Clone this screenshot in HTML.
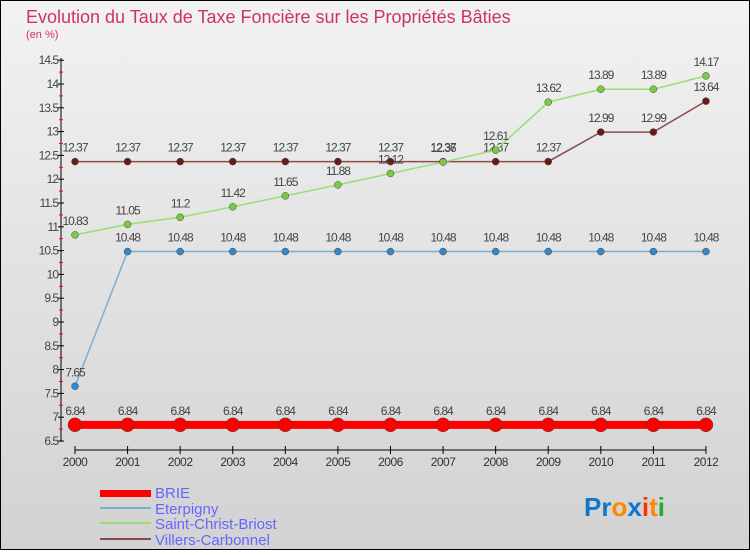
<!DOCTYPE html>
<html><head><meta charset="utf-8"><style>
body{margin:0;width:750px;height:550px;overflow:hidden;font-family:"Liberation Sans",sans-serif}
</style></head><body>
<svg width="750" height="550" xmlns="http://www.w3.org/2000/svg" font-family="Liberation Sans, sans-serif">
<defs><linearGradient id="bg" x1="0" y1="0" x2="0" y2="1"><stop offset="0" stop-color="#f2f2f2"/><stop offset="1" stop-color="#d2d2d2"/></linearGradient></defs>
<rect x="0.5" y="0.5" width="749" height="549" fill="url(#bg)" stroke="#000"/>
<text x="26" y="23" font-size="18" fill="#cc3366">Evolution du Taux de Taxe Foncière sur les Propriétés Bâties</text>
<text x="26" y="38" font-size="11" fill="#cc3366">(en %)</text>
<g id="axes"></g>
<g id="series"></g>
<g>
<rect x="100" y="490" width="51" height="7" fill="#f00"/><text x="155" y="498" font-size="15" fill="#6666ff">BRIE</text>
<rect x="100" y="507" width="51" height="2" fill="#7aaed0"/><text x="155" y="514" font-size="15" fill="#6666ff">Eterpigny</text>
<rect x="100" y="522" width="51" height="2" fill="#99dd77"/><text x="155" y="529" font-size="15" fill="#6666ff">Saint-Christ-Briost</text>
<rect x="100" y="538" width="51" height="2" fill="#8b4a4a"/><text x="155" y="545" font-size="15" fill="#6666ff">Villers-Carbonnel</text>
</g>
<g font-size="26" font-weight="bold">
<text x="584" y="516"><tspan fill="#1177cc">Pr</tspan><tspan fill="#ff8800">o</tspan><tspan fill="#1177cc">x</tspan><tspan fill="#ff3300">i</tspan><tspan fill="#ff8800">t</tspan><tspan fill="#22aa33">i</tspan></text>
</g>
</svg>
<script>
const years=[2000,2001,2002,2003,2004,2005,2006,2007,2008,2009,2010,2011,2012];
const brie=[6.84,6.84,6.84,6.84,6.84,6.84,6.84,6.84,6.84,6.84,6.84,6.84,6.84];
const eterpigny=[7.65,10.48,10.48,10.48,10.48,10.48,10.48,10.48,10.48,10.48,10.48,10.48,10.48];
const saintChrist=[10.83,11.05,11.2,11.42,11.65,11.88,12.12,12.36,12.61,13.62,13.89,13.89,14.17];
const villers=[12.37,12.37,12.37,12.37,12.37,12.37,12.37,12.37,12.37,12.37,12.99,12.99,13.64];
const yTicks=[6.5,7,7.5,8,8.5,9,9.5,10,10.5,11,11.5,12,12.5,13,13.5,14,14.5];
const NS="http://www.w3.org/2000/svg";
const X=i=>75+i*52.58;
const Y=v=>441-(v-6.5)*47.6;
function mk(p,t,a){const e=document.createElementNS(NS,t);for(const k in a)e.setAttribute(k,a[k]);p.appendChild(e);return e;}
const ax=document.getElementById('axes');
const yl=mk(ax,'line',{x1:61,y1:58,x2:61,y2:442,stroke:'#000'});


yTicks.forEach(v=>{
 mk(ax,'line',{x1:58,x2:64,y1:Y(v),y2:Y(v),stroke:'#000'});
 if(v<14.5) mk(ax,'line',{x1:59,x2:63,y1:Y(v+0.25),y2:Y(v+0.25),stroke:'#f00'});
 const t=mk(ax,'text',{x:58,y:Y(v)+4,'font-size':12,'text-anchor':'end',fill:'#444','letter-spacing':'-1'});
 t.textContent=v;
 
 
});
const xl=mk(ax,'line',{x1:X(0),x2:X(12),y1:450,y2:450,stroke:'#000'});


years.forEach((y,i)=>{
 mk(ax,'line',{x1:X(i),x2:X(i),y1:446,y2:454,stroke:'#000'});
 const t=mk(ax,'text',{x:X(i),y:466,'font-size':12,'text-anchor':'middle',fill:'#333','letter-spacing':'-0.5'});
 t.textContent=y;
 
 
});
const sg=document.getElementById('series');
function series(name,vals,color,dot,w,r){
 const g=mk(sg,'g',{});
 
 
 mk(g,'polyline',{points:vals.map((v,i)=>X(i)+','+Y(v)).join(' '),fill:'none',stroke:color,'stroke-width':w});
 vals.forEach((v,i)=>{
  const c=mk(g,'circle',{cx:X(i),cy:Y(v),r:r,fill:dot,stroke:'#444','stroke-width':0.5});
  
  
  const t=mk(g,'text',{x:X(i),y:Y(v)-10,'font-size':12,'text-anchor':'middle',fill:'#444','letter-spacing':'-1'});
  t.textContent=v;
  
  
 });
}
series('villers',villers,'#8b4a4a','#6b1a1a',1.5,3.5);
series('saint-christ',saintChrist,'#99dd77','#77cc44',1.5,3.5);
series('eterpigny',eterpigny,'#7aaed0','#3388cc',1.5,3.5);
series('brie',brie,'#f00','#f00',8,7);
</script>
</body></html>
